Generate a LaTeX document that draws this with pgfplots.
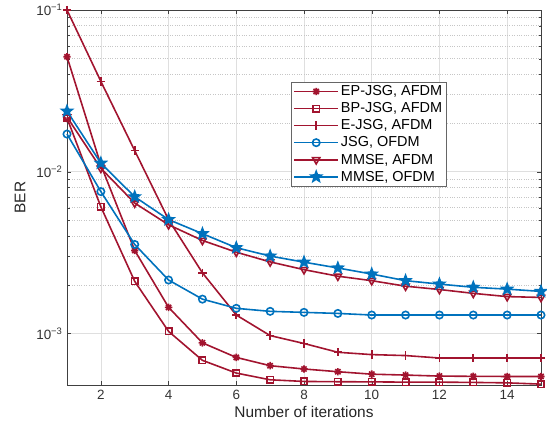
\documentclass[border=0pt]{standalone}
\usepackage{fontspec}
\setmainfont{Liberation Sans}
\usepackage{pgfplots}
\pgfplotsset{compat=1.18}
\definecolor{mred}{RGB}{162,20,47}
\definecolor{mblue}{RGB}{0,114,189}
\pgfdeclareplotmark{ast8}{%
  \pgfpathmoveto{\pgfqpoint{-\pgfplotmarksize}{0pt}}\pgfpathlineto{\pgfqpoint{\pgfplotmarksize}{0pt}}%
  \pgfpathmoveto{\pgfqpoint{0pt}{-\pgfplotmarksize}}\pgfpathlineto{\pgfqpoint{0pt}{\pgfplotmarksize}}%
  \pgfpathmoveto{\pgfqpoint{-0.707\pgfplotmarksize}{-0.707\pgfplotmarksize}}\pgfpathlineto{\pgfqpoint{0.707\pgfplotmarksize}{0.707\pgfplotmarksize}}%
  \pgfpathmoveto{\pgfqpoint{-0.707\pgfplotmarksize}{0.707\pgfplotmarksize}}\pgfpathlineto{\pgfqpoint{0.707\pgfplotmarksize}{-0.707\pgfplotmarksize}}%
  \pgfusepathqstroke}
\pgfdeclareplotmark{fstar}{%
  \pgfpathmoveto{\pgfqpointpolar{90}{1.3\pgfplotmarksize}}%
  \pgfpathlineto{\pgfqpointpolar{126}{0.55\pgfplotmarksize}}%
  \pgfpathlineto{\pgfqpointpolar{162}{1.3\pgfplotmarksize}}%
  \pgfpathlineto{\pgfqpointpolar{198}{0.55\pgfplotmarksize}}%
  \pgfpathlineto{\pgfqpointpolar{234}{1.3\pgfplotmarksize}}%
  \pgfpathlineto{\pgfqpointpolar{270}{0.55\pgfplotmarksize}}%
  \pgfpathlineto{\pgfqpointpolar{306}{1.3\pgfplotmarksize}}%
  \pgfpathlineto{\pgfqpointpolar{342}{0.55\pgfplotmarksize}}%
  \pgfpathlineto{\pgfqpointpolar{18}{1.3\pgfplotmarksize}}%
  \pgfpathlineto{\pgfqpointpolar{54}{0.55\pgfplotmarksize}}%
  \pgfpathclose\pgfusepathqfillstroke}
\begin{document}
\begin{tikzpicture}[x=1bp,y=1bp]
\begin{axis}[
  scale only axis, width=474bp, height=375bp,
  ymode=log, xmin=1, xmax=15, ymin=4.8e-4, ymax=0.1,
  xtick={2,4,...,14},
  ytick={1e-3,1e-2,1e-1},
  yticklabels={10\textsuperscript{−3},10\textsuperscript{−2},10\textsuperscript{−1}},
  /pgf/number format/assume math mode=true,
  tick label style={font=\fontsize{13.5}{15}\selectfont, color=black!80},
  xticklabel style={yshift=-2bp},
  yticklabel style={xshift=-1bp},
  label style={font=\fontsize{15.5}{18}\selectfont, color=black!85},
  xlabel={Number of iterations}, ylabel={BER},
  xlabel style={yshift=1bp}, ylabel style={yshift=4bp},
  grid=both, major grid style={gray!25, line width=0.5pt},
  minor grid style={gray!45, dotted, line width=0.5pt},
  minor x tick num=0,
  tick align=inside, axis line style={black!75, line width=0.5pt},
  major tick length=4bp, minor tick length=2.5bp,
  tick style={black!75},
  clip=false,
  legend cell align=left,
  legend style={at={(0.473,0.808)}, anchor=north west, font=\fontsize{14.5}{16}\selectfont,
    draw=black!60, inner xsep=2bp, inner ysep=1.5bp, row sep=1.5bp},
  legend image code/.code={\draw[mark=none, line width=1.6pt] (0bp,0bp) -- (44bp,0bp); \draw[line width=1.6pt] plot coordinates {(22bp,0bp)};},
  every axis plot/.append style={line width=1.6pt, mark size=3.7bp},
]
\addplot[mred, mark=ast8] coordinates {(1,0.0514)(2,0.0110)(3,0.00326)(4,0.00145)(5,0.000875)(6,0.000711)(7,0.000632)(8,0.000603)(9,0.00058)(10,0.00056)(11,0.000553)(12,0.000545)(13,0.000543)(14,0.000542)(15,0.000542)};
\addlegendentry{EP-JSG, AFDM}
\addplot[mred, mark=square, mark size=3.2bp] coordinates {(1,0.0215)(2,0.00607)(3,0.0021)(4,0.00103)(5,0.000682)(6,0.000569)(7,0.000517)(8,0.000505)(9,0.000503)(10,0.000502)(11,0.0005)(12,0.0005)(13,0.000498)(14,0.000495)(15,0.000486)};
\addlegendentry{BP-JSG, AFDM}
\addplot[mred, mark=+, mark size=4.2bp] coordinates {(1,0.1)(2,0.0362)(3,0.0135)(4,0.00505)(5,0.00237)(6,0.0013)(7,0.00097)(8,0.000867)(9,0.000765)(10,0.00074)(11,0.00073)(12,0.000705)(13,0.000705)(14,0.000705)(15,0.000705)};
\addlegendentry{E-JSG, AFDM}
\addplot[mblue, mark=o] coordinates {(1,0.0171)(2,0.00754)(3,0.00355)(4,0.00214)(5,0.00163)(6,0.00143)(7,0.00137)(8,0.00135)(9,0.00133)(10,0.0013)(11,0.0013)(12,0.0013)(13,0.0013)(14,0.0013)(15,0.0013)};
\addlegendentry{JSG, OFDM}
\addplot[mred, mark=triangle, mark options={rotate=180}, mark size=4.2bp] coordinates {(1,0.0218)(2,0.0105)(3,0.0064)(4,0.0047)(5,0.00376)(6,0.00318)(7,0.00277)(8,0.00248)(9,0.00226)(10,0.00212)(11,0.00196)(12,0.00187)(13,0.00177)(14,0.00169)(15,0.00167)};
\addlegendentry{MMSE, AFDM}
\addplot[mblue, mark=fstar, mark size=4.2bp] coordinates {(1,0.0237)(2,0.0113)(3,0.0070)(4,0.00506)(5,0.00414)(6,0.00339)(7,0.00301)(8,0.00276)(9,0.00254)(10,0.00233)(11,0.00212)(12,0.00202)(13,0.00193)(14,0.00188)(15,0.00182)};
\addlegendentry{MMSE, OFDM}
\end{axis}
\pgfresetboundingbox
\path (current axis.south west) ++(-67bp,-44bp) coordinate (bl);
\path (current axis.north east) ++(6bp,10bp) coordinate (tr);
\path[use as bounding box] (bl) rectangle (tr);
\end{tikzpicture}
\end{document}
